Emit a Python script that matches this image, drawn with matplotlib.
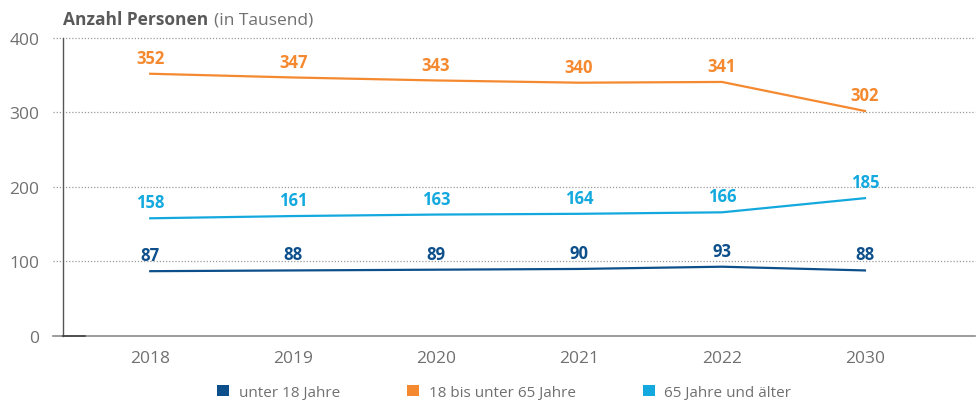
import matplotlib.pyplot as plt
from matplotlib.patches import Patch

plt.rcParams["font.family"] = ["Open Sans", "DejaVu Sans"]

JAHRE = ["2018", "2019", "2020", "2021", "2022", "2030"]
UNTER_18 = [87, 88, 89, 90, 93, 88]
BIS_65 = [352, 347, 343, 340, 341, 302]
AB_65 = [158, 161, 163, 164, 166, 185]

SERIEN = [
    ("unter 18 Jahre", UNTER_18, "#0d4f8b"),
    ("18 bis unter 65 Jahre", BIS_65, "#f5892f"),
    ("65 Jahre und älter", AB_65, "#14a9de"),
]

GRAU = "#707070"


def main():
    fig = plt.figure(figsize=(9.79, 4.02), dpi=100)
    ax = fig.add_axes([0.0644, 0.1617, 0.9315, 0.7413])

    x = list(range(len(JAHRE)))
    ax.set_xlim(-0.61, 5.77)
    ax.set_ylim(0, 400)

    # gepunktete Hilfslinien, etwas links über die Achse hinaus
    trans = ax.get_yaxis_transform()
    for y in [100, 200, 300, 400]:
        ax.plot([-0.011, 1], [y, y], transform=trans, color="#9a9a9a",
                linestyle=(0, (1, 1.5)), linewidth=0.9, clip_on=False, zorder=1)
    ax.plot([-0.011, 1], [0, 0], transform=trans, color="#8a8a8a",
            linewidth=1.2, clip_on=False, zorder=2)
    ax.plot([0, 0.024], [0, 0], transform=trans, color="#444444",
            linewidth=1.2, clip_on=False, zorder=3)

    for name, werte, farbe in SERIEN:
        ax.plot(x, werte, color=farbe, linewidth=1.6, zorder=4)
        for xi, v in zip(x, werte):
            ax.annotate(str(v), (xi, v), xytext=(0, 5), textcoords="offset points",
                        ha="center", va="bottom", color=farbe, fontsize=12,
                        fontweight="bold")

    for side in ["top", "right", "bottom"]:
        ax.spines[side].set_visible(False)
    ax.spines["left"].set_color("#555555")
    ax.spines["left"].set_linewidth(1.0)

    ax.set_yticks([0, 100, 200, 300, 400])
    ax.set_xticks(x)
    ax.set_xticklabels(JAHRE)
    ax.tick_params(axis="y", length=0, pad=17, labelsize=12.5, labelcolor=GRAU)
    ax.tick_params(axis="x", length=0, pad=10, labelsize=12.5, labelcolor=GRAU)

    t1 = fig.text(0.0644, 0.938, "Anzahl Personen", fontsize=12.5, fontweight="bold",
                  color="#5a5a5a", va="baseline", ha="left")
    ax.annotate("(in Tausend)", xy=(1, 0), xycoords=t1, xytext=(4, 0),
                textcoords="offset points", fontsize=12.5, color=GRAU,
                va="bottom", ha="left", annotation_clip=False)

    handles = [Patch(facecolor=f, edgecolor="none", label=n) for n, _, f in SERIEN]
    fig.legend(handles=handles, loc="center", bbox_to_anchor=(0.515, 0.022), ncol=3,
               frameon=False, labelcolor=GRAU, handlelength=0.8,
               handleheight=0.8, handletextpad=0.6, columnspacing=4.4,
               prop={"size": 11})

    fig.savefig("out.png", dpi=100)
    plt.close(fig)


if __name__ == "__main__":
    main()
